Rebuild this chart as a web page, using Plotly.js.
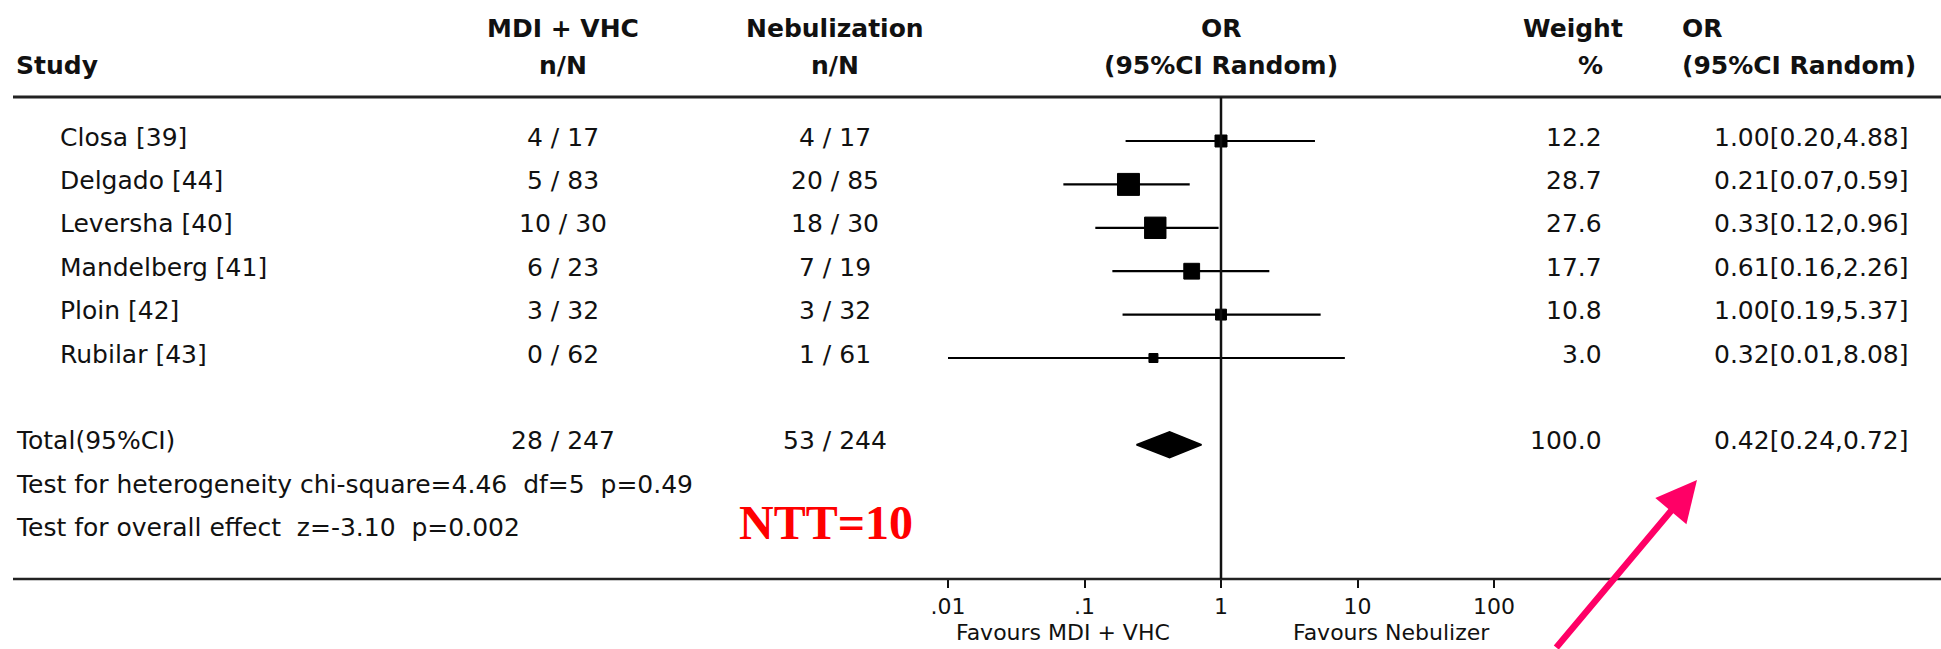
<!DOCTYPE html>
<html>
<head>
<meta charset="utf-8">
<script src="https://cdn.plot.ly/plotly-3.0.1.min.js"></script>
<style>html,body{margin:0;padding:0;background:#fff;}#chart{width:1941px;height:649px;}</style>
</head>
<body>
<div id="chart"></div>
<script>
// ---- data ----
const studies = ["Closa [39]", "Delgado [44]", "Leversha [40]", "Mandelberg [41]", "Ploin [42]", "Rubilar [43]"];
const mdiVhc = ["4 / 17", "5 / 83", "10 / 30", "6 / 23", "3 / 32", "0 / 62"];
const nebulization = ["4 / 17", "20 / 85", "18 / 30", "7 / 19", "3 / 32", "1 / 61"];
const weights = [12.2, 28.7, 27.6, 17.7, 10.8, 3.0];
const orValues = [1.00, 0.21, 0.33, 0.61, 1.00, 0.32];
const ciLow = [0.20, 0.07, 0.12, 0.16, 0.19, 0.01];
const ciHigh = [4.88, 0.59, 0.96, 2.26, 5.37, 8.08];
const totalLabel = "Total(95%CI)";
const totalMdi = "28 / 247";
const totalNeb = "53 / 244";
const totalWeight = 100.0;
const totalOr = 0.42, totalLow = 0.24, totalHigh = 0.72;
const heterogeneityText = "Test for heterogeneity chi-square=4.46  df=5  p=0.49";
const overallText = "Test for overall effect  z=-3.10  p=0.002";
const nttText = "NTT=10";
const tickVals = [0.01, 0.1, 1, 10, 100];
const tickText = [".01", ".1", "1", "10", "100"];
const favoursLeft = "Favours MDI + VHC";
const favoursRight = "Favours Nebulizer";

// ---- layout helpers ----
const W = 1941, H = 649, PB = 579;       // plot bottom in pixels
const ROW0 = 141, ROWH = 43.4;          // pixel of first row, row pitch
const px = p => p / W;
const py = p => (PB - p) / PB;
const fmt2 = v => v.toFixed(2);
const orLabel = (o, l, h) => fmt2(o) + "[" + fmt2(l) + "," + fmt2(h) + "]";

const bodyFont = {family: "DejaVu Sans", size: 25, color: "#111"};
const headFont = {family: "DejaVu Sans", size: 25, color: "#111", weight: "bold"};
const tickFont = {family: "DejaVu Sans", size: 22, color: "#111"};

const COL_MDI = 563, COL_NEB = 835;

const rowIdx = studies.map((s, i) => i);
const totalRow = studies.length + 1;

// ---- traces ----
const ciX = [], ciY = [];
rowIdx.forEach(i => { ciX.push(ciLow[i], ciHigh[i], null); ciY.push(i, i, null); });
const traces = [
  {x: ciX, y: ciY, mode: "lines", type: "scatter", line: {color: "#000", width: 2.2}, hoverinfo: "skip", showlegend: false},
  {x: orValues, y: rowIdx, mode: "markers", type: "scatter", opacity: 1,
   marker: {symbol: "square", color: "#000", opacity: 1,
            size: weights.map(w => Math.max(9, 5.35 * Math.sqrt(w) - 6.7)), line: {width: 1, color: "#000"}},
   showlegend: false},
  (function () {
    const h = 13 / ROWH;
    return {x: [totalLow, totalOr, totalHigh, totalOr, totalLow],
            y: [totalRow, totalRow - h, totalRow, totalRow + h, totalRow],
            mode: "lines", type: "scatter", fill: "toself", fillcolor: "#000",
            line: {color: "#000", width: 1.5}, showlegend: false};
  })()
];

// ---- annotations ----
const ann = [];
function txt(text, x, yPix, anchor, font) {
  ann.push({text: text, xref: "paper", yref: "paper", x: px(x), y: py(yPix), xanchor: anchor, yanchor: "middle", showarrow: false, font: font});
}
function rowTxt(text, x, row, anchor, font) {
  ann.push({text: text, xref: "paper", yref: "y", x: px(x), y: row, yshift: 4, xanchor: anchor, yanchor: "middle", showarrow: false, font: font});
}
// headers
txt("Study", 14, 66, "left", headFont);
txt("MDI + VHC", COL_MDI, 29, "center", headFont);
txt("n/N", COL_MDI, 66, "center", headFont);
txt("Nebulization", COL_NEB, 29, "center", headFont);
txt("n/N", COL_NEB, 66, "center", headFont);
txt("OR", 1221, 29, "center", headFont);
txt("(95%CI Random)", 1221, 66, "center", headFont);
txt("Weight", 1573, 29, "center", headFont);
txt("%", 1590, 66, "center", headFont);
txt("OR", 1680, 29, "left", headFont);
txt("(95%CI Random)", 1680, 66, "left", headFont);
// study rows
rowIdx.forEach(i => {
  rowTxt(studies[i], 58, i, "left", bodyFont);
  rowTxt(mdiVhc[i], COL_MDI, i, "center", bodyFont);
  rowTxt(nebulization[i], COL_NEB, i, "center", bodyFont);
  rowTxt(weights[i].toFixed(1), 1604, i, "right", bodyFont);
  rowTxt(orLabel(orValues[i], ciLow[i], ciHigh[i]), 1910, i, "right", bodyFont);
});
// total
rowTxt(totalLabel, 14, totalRow, "left", bodyFont);
rowTxt(totalMdi, COL_MDI, totalRow, "center", bodyFont);
rowTxt(totalNeb, COL_NEB, totalRow, "center", bodyFont);
rowTxt(totalWeight.toFixed(1), 1604, totalRow, "right", bodyFont);
rowTxt(orLabel(totalOr, totalLow, totalHigh), 1910, totalRow, "right", bodyFont);
rowTxt(heterogeneityText, 14, totalRow + 1, "left", bodyFont);
rowTxt(overallText, 14, totalRow + 2, "left", bodyFont);
// NTT
txt(nttText, 826, 522, "center", {family: "Liberation Serif", size: 48, color: "#ff0000", weight: "bold"});
// favours
txt(favoursLeft, 1063, 633, "center", tickFont);
txt(favoursRight, 1391, 633, "center", tickFont);
// arrow
ann.push({text: "", xref: "paper", yref: "paper", x: px(1697), y: py(480), ax: -142, ay: 182,
  showarrow: true, arrowcolor: "#ff0066", arrowwidth: 6.5, arrowhead: 2, arrowsize: 1.25});

// ---- shapes ----
const shapes = [
  {type: "line", xref: "paper", yref: "paper", x0: px(13), x1: 1, y0: py(97), y1: py(97), line: {color: "#222", width: 3}},
  {type: "line", xref: "paper", yref: "paper", x0: px(13), x1: 1, y0: 0, y1: 0, line: {color: "#222", width: 2.5}},
  {type: "line", xref: "x", yref: "paper", x0: 1, x1: 1, y0: 0, y1: py(97), line: {color: "#111", width: 2.5}}
];

const layout = {
  width: W, height: H,
  margin: {l: 0, r: 0, t: 0, b: H - PB, pad: 0},
  paper_bgcolor: "#fff", plot_bgcolor: "#fff",
  showlegend: false,
  xaxis: {type: "log", range: [(0 - 1221) / 136.5, (W - 1221) / 136.5], tickvals: tickVals, ticktext: tickText,
          ticks: "outside", ticklen: 8, tickwidth: 2, tickcolor: "#111", showgrid: false, zeroline: false,
          showline: false, tickfont: tickFont, fixedrange: true},
  yaxis: {range: [(PB - ROW0) / ROWH, -ROW0 / ROWH], visible: false, showgrid: false, zeroline: false, fixedrange: true},
  annotations: ann,
  shapes: shapes
};

Plotly.newPlot("chart", traces, layout, {staticPlot: true, displayModeBar: false});
</script>
</body>
</html>
